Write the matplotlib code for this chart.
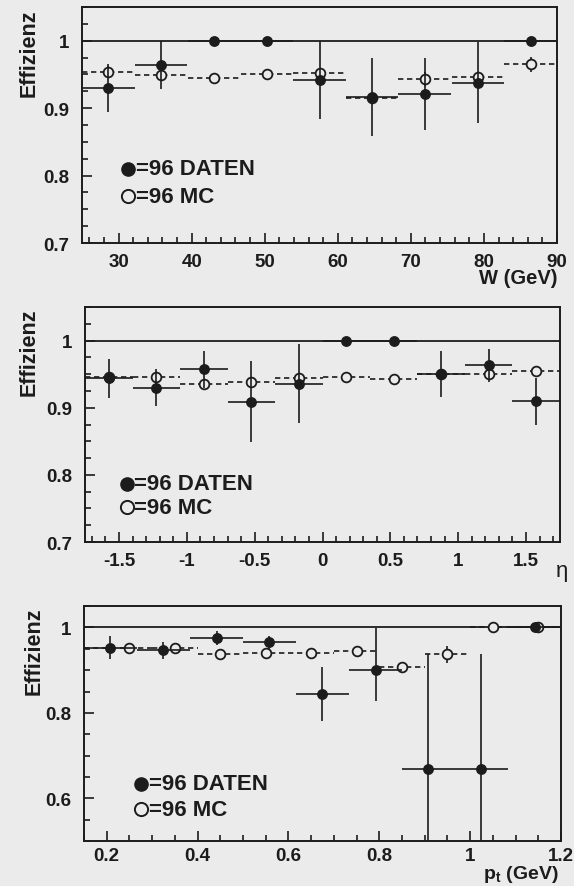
import matplotlib.pyplot as plt
from matplotlib.ticker import MultipleLocator, FuncFormatter

plt.rcParams['font.family'] = 'Liberation Sans'
plt.rcParams['font.weight'] = 'bold'
plt.rcParams['axes.unicode_minus'] = False
plt.rcParams['mathtext.fontset'] = 'custom'
plt.rcParams['mathtext.rm'] = 'Liberation Sans:bold'
plt.rcParams['mathtext.it'] = 'Liberation Sans:bold'

ink = '#1c1c1c'
paper = '#ebebeb'

# efficiency vs W
w_x = [28.6, 35.8, 43.1, 50.3, 57.5, 64.7, 71.9, 79.2, 86.4]
w_hw = 3.6
w_eff = [0.930, 0.964, 1.0, 1.0, 0.942, 0.916, 0.921, 0.938, 1.0]
w_err = [0.035, 0.036, 0.0, 0.0, 0.058, 0.058, 0.053, 0.060, 0.0]
w_mc = [0.953, 0.949, 0.944, 0.951, 0.952, 0.915, 0.943, 0.946, 0.965]
w_mc_err = [0.009, 0.009, 0.006, 0.006, 0.008, 0.006, 0.010, 0.008, 0.011]

# efficiency vs eta
eta_x = [-1.575, -1.225, -0.875, -0.525, -0.175, 0.175, 0.525, 0.875, 1.225, 1.575]
eta_hw = 0.175
eta_eff = [0.944, 0.930, 0.957, 0.909, 0.936, 1.0, 1.0, 0.950, 0.963, 0.910]
eta_err = [0.029, 0.028, 0.028, 0.060, 0.059, 0.0, 0.0, 0.034, 0.025, 0.035]
eta_mc = [0.946, 0.946, 0.936, 0.938, 0.944, 0.946, 0.943, 0.950, 0.951, 0.955]
eta_mc_err = [0.006, 0.008, 0.006, 0.008, 0.006, 0.006, 0.006, 0.006, 0.010, 0.006]

# efficiency vs pt
pt_x = [0.208, 0.325, 0.442, 0.558, 0.675, 0.792, 0.908, 1.025, 1.142]
pt_hw = 0.058
pt_eff = [0.952, 0.947, 0.976, 0.965, 0.845, 0.900, 0.669, 0.669, 1.0]
pt_err_lo = [0.027, 0.020, 0.016, 0.016, 0.063, 0.072, 0.268, 0.268, 0.0]
pt_err_hi = [0.027, 0.020, 0.016, 0.016, 0.063, 0.098, 0.268, 0.268, 0.0]
pt_mc_x = [0.25, 0.35, 0.45, 0.55, 0.65, 0.75, 0.85, 0.95, 1.05, 1.15]
pt_mc_lo = [0.15, 0.30, 0.40, 0.50, 0.60, 0.70, 0.80, 0.90, 1.00, 1.10]
pt_mc_hi = [0.30, 0.40, 0.50, 0.60, 0.70, 0.80, 0.90, 1.00, 1.10, 1.20]
pt_mc = [0.951, 0.951, 0.937, 0.941, 0.941, 0.945, 0.908, 0.937, 1.0, 1.0]
pt_mc_err = [0.006, 0.008, 0.006, 0.006, 0.006, 0.006, 0.011, 0.020, 0.0, 0.0]


def draw_panel(ax, x, hw, eff, err, mc_x, mc_lo, mc_hi, mc_eff, mc_err):
    ax.axhline(1.0, color=ink, lw=1.3, zorder=1)
    ax.hlines(mc_eff, mc_lo, mc_hi, colors=ink, linestyles=(0, (3.2, 2.2)), lw=1.2, zorder=2)
    ax.errorbar(mc_x, mc_eff, yerr=mc_err, fmt='o', ms=7, mfc=paper, mec=ink, mew=1.3,
                ecolor=ink, elinewidth=1.2, capsize=0, zorder=3)
    ax.errorbar(x, eff, xerr=hw, yerr=err, fmt='o', ms=6.8, color=ink,
                elinewidth=1.2, capsize=0, zorder=4)


def style_axes(ax, xmaj, xmin, ymaj, ymin, xpad=7):
    ax.set_facecolor(paper)
    for s in ax.spines.values():
        s.set_linewidth(1.4)
        s.set_color(ink)
    ax.xaxis.set_major_locator(MultipleLocator(xmaj))
    ax.xaxis.set_minor_locator(MultipleLocator(xmin))
    ax.yaxis.set_major_locator(MultipleLocator(ymaj))
    ax.yaxis.set_minor_locator(MultipleLocator(ymin))
    fmt = FuncFormatter(lambda v, p: '%g' % round(v, 3))
    ax.xaxis.set_major_formatter(fmt)
    ax.yaxis.set_major_formatter(fmt)
    ax.tick_params(which='both', direction='in', top=False, right=False,
                   width=1.2, color=ink, labelcolor=ink, labelsize=13.5)
    ax.tick_params(which='major', length=7)
    ax.tick_params(which='minor', length=4)
    ax.tick_params(axis='y', pad=9)
    ax.tick_params(axis='x', pad=xpad)


def legend(ax, x, y1, y2):
    ax.plot([x], [y1], 'o', ms=9.5, color=ink, transform=ax.transAxes, clip_on=False)
    ax.text(x + 0.016, y1, '=96 DATEN', transform=ax.transAxes, fontsize=16,
            va='center', color=ink)
    ax.plot([x], [y2], 'o', ms=9.5, mfc=paper, mec=ink, mew=1.4,
            transform=ax.transAxes, clip_on=False)
    ax.text(x + 0.016, y2, '=96 MC', transform=ax.transAxes, fontsize=16,
            va='center', color=ink)


def ylabel(ax, x):
    ax.text(x, 0.81, 'Effizienz', transform=ax.transAxes, rotation=90,
            ha='center', va='center', fontsize=15.5, color=ink)


fig = plt.figure(figsize=(5.74, 8.87), dpi=100, facecolor=paper)

# top: W
ax1 = fig.add_axes([0.1429, 0.7249, 0.8275, 0.2661])
draw_panel(ax1, w_x, w_hw, w_eff, w_err, w_x,
           [v - w_hw for v in w_x], [v + w_hw for v in w_x], w_mc, w_mc_err)
style_axes(ax1, 10, 2, 0.1, 0.025)
ax1.set_xlim(25, 90)
ax1.set_ylim(0.7, 1.05)
legend(ax1, 0.097, 0.314, 0.199)
ylabel(ax1, -0.112)
ax1.text(1.0, -0.105, 'W (GeV)', transform=ax1.transAxes, ha='right', va='top',
         fontsize=14.5, color=ink)

# middle: eta
ax2 = fig.add_axes([0.1481, 0.3878, 0.8275, 0.2649])
draw_panel(ax2, eta_x, eta_hw, eta_eff, eta_err, eta_x,
           [v - eta_hw for v in eta_x], [v + eta_hw for v in eta_x], eta_mc, eta_mc_err)
style_axes(ax2, 0.5, 0.1, 0.1, 0.025)
ax2.set_xlim(-1.75, 1.75)
ax2.set_ylim(0.7, 1.05)
legend(ax2, 0.088, 0.247, 0.149)
ylabel(ax2, -0.118)
ax2.text(1.004, -0.122, 'η', transform=ax2.transAxes, ha='center', va='center',
         fontsize=16, fontweight='normal', color=ink)

# bottom: pt
ax3 = fig.add_axes([0.1463, 0.0507, 0.831, 0.2649])
draw_panel(ax3, pt_x, pt_hw, pt_eff, [pt_err_lo, pt_err_hi], pt_mc_x,
           pt_mc_lo, pt_mc_hi, pt_mc, pt_mc_err)
style_axes(ax3, 0.2, 0.05, 0.2, 0.05, xpad=4.5)
ax3.set_xlim(0.15, 1.2)
ax3.set_ylim(0.5, 1.05)
legend(ax3, 0.12, 0.243, 0.136)
ylabel(ax3, -0.105)
ax3.text(0.994, -0.092, 'p$_{t}$ (GeV)', transform=ax3.transAxes, ha='right', va='top',
         fontsize=14, color=ink)

plt.savefig('out.png', dpi=100, facecolor=paper)
